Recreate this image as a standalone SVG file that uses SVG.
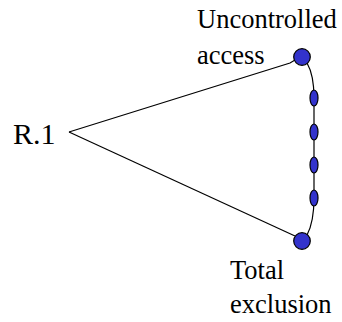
<svg xmlns="http://www.w3.org/2000/svg" width="342" height="322" viewBox="0 0 342 322">
  <style>
    .lbl { font-family: "Liberation Serif", "Times New Roman", serif; fill: #000; }
    .edge { fill: none; stroke: #000; stroke-width: 1.2; }
    .dot { fill: #3333cc; stroke: #000; stroke-width: 1.2; }
  </style>
  <rect width="342" height="322" fill="#fff"/>
  <g id="connectors">
    <path class="edge" d="M69,132 L290,63 L295,60"/>
    <path class="edge" d="M69,132 L295,236"/>
    <path class="edge" d="M307,63 Q314,75 314,98 L314,198 Q314,222 307,235"/>
  </g>
  <g id="root">
    <text class="lbl" x="13" y="144" font-size="30">R.1</text>
  </g>
  <g id="uncontrolled">
    <circle class="dot" cx="302" cy="57" r="8.3"/>
    <text class="lbl" x="197" y="28" font-size="26.5">Uncontrolled</text>
    <text class="lbl" x="197" y="64" font-size="26.5">access</text>
  </g>
  <g id="steps">
    <ellipse class="dot" cx="314" cy="98" rx="4" ry="8"/>
    <ellipse class="dot" cx="314" cy="132" rx="4" ry="8"/>
    <ellipse class="dot" cx="314" cy="165" rx="4" ry="8"/>
    <ellipse class="dot" cx="314" cy="198" rx="4" ry="8"/>
  </g>
  <g id="exclusion">
    <circle class="dot" cx="302" cy="241" r="8.3"/>
    <text class="lbl" x="230" y="279" font-size="26.5">Total</text>
    <text class="lbl" x="230" y="313" font-size="26.5">exclusion</text>
  </g>
</svg>
